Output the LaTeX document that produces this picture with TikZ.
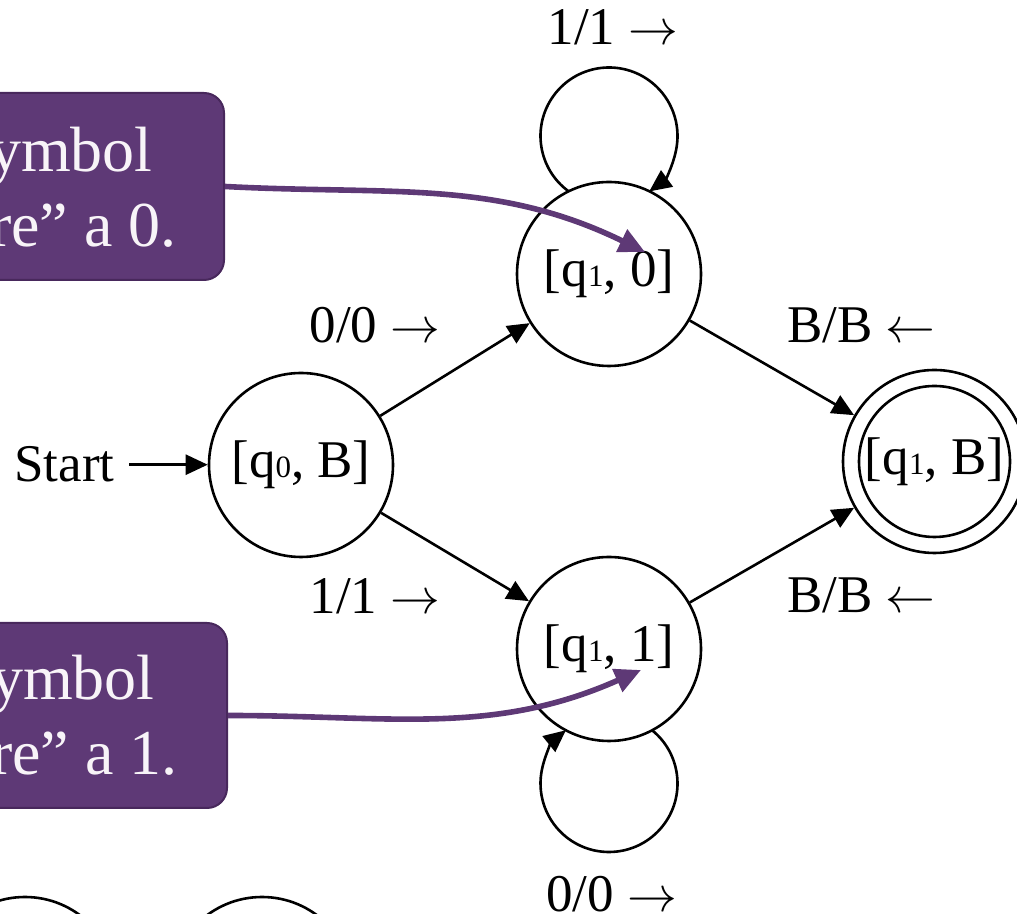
\documentclass[tikz,border=0pt]{standalone}
\usepackage{fontspec}
\setmainfont{Liberation Serif}
\usetikzlibrary{arrows.meta,calc}
% small index digit set on the baseline
\newcommand\stsub[1]{{\fontsize{15.5pt}{15.5pt}\selectfont #1}}
\definecolor{notefill}{RGB}{94,57,118}
\definecolor{noteedge}{RGB}{72,40,92}
\definecolor{notetext}{RGB}{248,244,248}
\begin{document}
\begin{tikzpicture}[x=0.5pt,y=0.5pt,
  state/.style={circle,draw,line width=1.3pt,minimum size=92pt,inner sep=0pt,
    font=\fontsize{26.5pt}{30pt}\selectfont},
  lbl/.style={anchor=base,inner sep=0pt,font=\fontsize{26.5pt}{30pt}\selectfont},
  trans/.style={line width=1.3pt,-{Triangle[length=11pt,width=10pt]}},
  notebox/.style={draw=noteedge,line width=1pt,fill=notefill,rounded corners=10pt,
    minimum width=140pt,inner sep=0pt},
  notetxt/.style={anchor=base east,inner sep=0pt,text=notetext,
    font=\fontsize{32pt}{37pt}\selectfont},
  pointer/.style={draw=notefill,line width=2.8pt,-{Triangle[length=13pt,width=12pt]}}
]
\clip (0,0) rectangle (1017,914);

% states
\node[state] (q0B) at (301,449) {[q\stsub{0}, B]};
\node[state] (q10) at (609,640) {[q\stsub{1}, 0]};
\node[state] (q11) at (609,265) {[q\stsub{1}, 1]};
\node[state,minimum size=91.5pt] (q1B) at (934.5,452.5) {[q\stsub{1}, B]};
\draw[line width=1.3pt] (q1B.center) circle[radius=37.75pt];
\node[state] (s1) at (25,-75) {};
\node[state] (s2) at (262,-75) {};

% start marker
\node[lbl,anchor=base east,inner xsep=7pt] (start) at (129,432) {Start};
\draw[trans] (start.east) -- (start.east -| q0B.west);

% transitions
\draw[trans] (q0B) -- (q10);
\draw[trans] (q0B) -- (q11);
\draw[trans] (q10) -- (q1B);
\draw[trans] (q11) -- (q1B);

% self loops
\coordinate (L0) at ($(q10)+(0,138)$);
\draw[trans] ([shift={(234:34.25pt)}]L0) arc[start angle=234,end angle=-54,radius=34.25pt];
\coordinate (L1) at ($(q11)+(0,-134.5)$);
\draw[trans] ([shift={(51:34.25pt)}]L1) arc[start angle=51,end angle=-231,radius=34.25pt];

% transition labels
\node[lbl] (l1) at (613,869) {1/1 $\rightarrow$};
\node[lbl] (l2) at (375,571) {0/0 $\rightarrow$};
\node[lbl] (l3) at (861.5,571) {B/B $\leftarrow$};
\node[lbl] (l4) at (375,300) {1/1 $\rightarrow$};
\node[lbl] (l5) at (861.5,301) {B/B $\leftarrow$};
\node[lbl] (l6) at (611.5,2) {0/0 $\rightarrow$};

% callout boxes
\node[notebox,minimum height=93.5pt,anchor=east] (note0) at (225,727.5) {};
\node[notetxt] (n0a) at (153,742) {ymbol};
\node[notetxt] (n0b) at (177,667) {re” a 0.};
\node[notebox,minimum height=92.5pt,anchor=east] (note1) at (228,198.5) {};
\node[notetxt] (n1a) at (155,214) {ymbol};
\node[notetxt] (n1b) at (178,139) {re” a 1.};

% callout pointers
\coordinate (t0) at (645,662);
\draw[pointer] (note0.east) to[out=-3,in=154] (t0);
\coordinate (t1) at (641,244);
\draw[pointer] (note1.east) to[out=0,in=204] (t1);
\end{tikzpicture}
\end{document}
